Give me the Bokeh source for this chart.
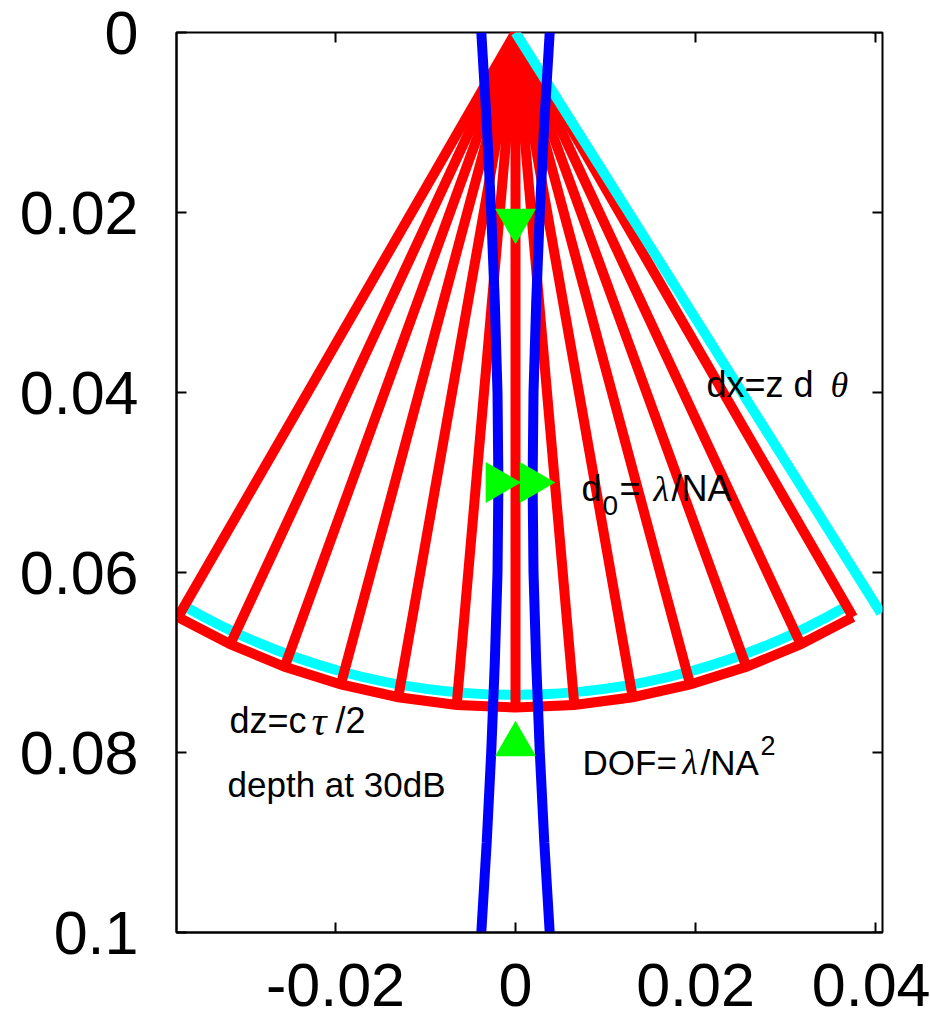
import math
from bokeh.plotting import figure
from bokeh.models import Range1d, FixedTicker, CustomJSTickFormatter
from bokeh.embed import file_html
from bokeh.resources import INLINE

# ---------------- data ----------------
x_ticks = [-0.02, 0.0, 0.02, 0.04]
y_ticks = [0.0, 0.02, 0.04, 0.06, 0.08, 0.1]

# fan of beams (angles in degrees) reaching the 30 dB depth
fan_angles = [-30, -25, -20, -15, -10, -5, 0, 5, 10, 15, 20, 25, 30]
fan_radius = 0.075

# range-resolution arc (cyan)
res_arc_radius = 0.0736
res_arc_half_angle = 30

# lateral resolution line (cyan), from apex to end point
dx_line_x = [0.0, 0.0406]
dx_line_y = [0.0, 0.0645]

# focused beam half-width (blue) versus depth
beam_z = [0.0, 0.01, 0.02, 0.03, 0.04, 0.05, 0.06, 0.07, 0.08, 0.09, 0.1]
beam_w = [0.0038, 0.0032, 0.0027, 0.0023, 0.0020, 0.0019, 0.0020, 0.0023, 0.0027, 0.0032, 0.0038]

# markers
dof_down_x, dof_down_y = [0.0], [0.0209]
dof_up_x, dof_up_y = [0.0], [0.0791]
d0_x, d0_y = [-0.0020, 0.0018], [0.05, 0.05]

X_MIN, X_MAX = -0.03767, 0.04078
Y_MIN, Y_MAX = 0.0, 0.1

# ---------------- figure ----------------
p = figure(width=930, height=1020,
           x_range=Range1d(X_MIN, X_MAX), y_range=Range1d(Y_MAX, Y_MIN),
           output_backend="svg", toolbar_location=None,
           min_border_left=176, min_border_right=48,
           min_border_top=32, min_border_bottom=88)
p.grid.visible = False
p.outline_line_color = "black"
p.outline_line_width = 2
p.background_fill_color = "white"
p.border_fill_color = "white"

fmt = CustomJSTickFormatter(code="""
var s = tick.toFixed(2);
s = s.replace(/0+$/, '').replace(/\\.$/, '');
if (s === '-0') s = '0';
return s;
""")

def style_axis(ax, ticks, standoff):
    ax.ticker = FixedTicker(ticks=ticks)
    ax.formatter = fmt
    ax.axis_line_color = "black"
    ax.axis_line_width = 2
    ax.major_tick_in = 10
    ax.major_tick_out = 0
    ax.major_tick_line_width = 2
    ax.major_tick_line_color = "black"
    ax.minor_tick_line_color = None
    ax.major_label_standoff = standoff
    ax.major_label_text_font = "Liberation Sans"
    ax.major_label_text_font_size = "61px"
    ax.major_label_text_color = "black"

style_axis(p.xaxis[0], x_ticks, 31)
style_axis(p.yaxis[0], y_ticks, 38)

# mirrored inward ticks on the top and right edges
tick_len = 10 * (Y_MAX - Y_MIN) / 900.0
p.segment(x0=x_ticks, y0=[Y_MIN] * len(x_ticks), x1=x_ticks, y1=[Y_MIN + tick_len] * len(x_ticks),
          line_color="black", line_width=2)
p.segment(x0=[X_MAX] * len(y_ticks), y0=y_ticks, x1=[X_MAX - tick_len] * len(y_ticks), y1=y_ticks,
          line_color="black", line_width=2)

# cyan arc (drawn first, below the red fan)
a0 = math.radians(-90 - res_arc_half_angle)
a1 = math.radians(-90 + res_arc_half_angle)
p.arc(x=[0.0], y=[0.0], radius=res_arc_radius, start_angle=a0, end_angle=a1,
      line_color="#00ffff", line_width=10, line_cap="butt")

# red fan
ex = [fan_radius * math.sin(math.radians(a)) for a in fan_angles]
ey = [fan_radius * math.cos(math.radians(a)) for a in fan_angles]
p.segment(x0=[0.0] * len(ex), y0=[0.0] * len(ey), x1=ex, y1=ey,
          line_color="#ff0000", line_width=10, line_cap="butt")
p.line(ex, ey, line_color="#ff0000", line_width=10, line_join="miter", line_cap="butt")

# cyan lateral line
p.line(dx_line_x, dx_line_y, line_color="#00ffff", line_width=10, line_cap="butt")

# blue beam edges
p.line([-w for w in beam_w], beam_z, line_color="#0000ff", line_width=10)
p.line(beam_w, beam_z, line_color="#0000ff", line_width=10)

# green markers
mk = dict(size=41, line_color=None, fill_color="#00ff00")
p.scatter(dof_down_x, dof_down_y, marker="inverted_triangle", **mk)
p.scatter(dof_up_x, dof_up_y, marker="triangle", **mk)
p.scatter(d0_x, d0_y, marker="triangle", angle=-math.pi / 2, **mk)

# ---------------- labels ----------------
def d(px, py):
    return (px - 515) / 9000.0, (py - 32) / 9000.0

SANS = "Liberation Sans"
SERIF = "Liberation Serif"
pieces = [
    # (px, baseline_py, text, font, size, style)
    (706, 384, "dx=z d", SANS, 36, "normal"),
    (830, 384, "θ", SERIF, 36, "italic"),
    (581, 488, "d", SANS, 36, "normal"),
    (602, 505, "0", SANS, 28, "normal"),
    (619, 488, "=", SANS, 36, "normal"),
    (653, 488, "λ", SERIF, 36, "italic"),
    (671, 488, "/NA", SANS, 36, "normal"),
    (229, 720, "dz=c", SANS, 36, "normal"),
    (311, 720, "τ", SERIF, 42, "italic"),
    (335, 720, "/2", SANS, 36, "normal"),
    (227, 784, "depth at 30dB", SANS, 35, "normal"),
    (582, 762, "DOF=", SANS, 35, "normal"),
    (682, 762, "λ", SERIF, 35, "italic"),
    (700, 762, "/NA", SANS, 35, "normal"),
    (760, 745, "2", SANS, 27, "normal"),
]
for px_, py_, txt, font, size, style in pieces:
    xx, yy = d(px_, py_)
    p.text(x=[xx], y=[yy], text=[txt], text_font={"value": font},
           text_font_size={"value": f"{size}px"}, text_font_style=style,
           text_align="left", text_baseline="alphabetic", text_color="black")

open("out.html", "w").write(file_html(p, INLINE))
